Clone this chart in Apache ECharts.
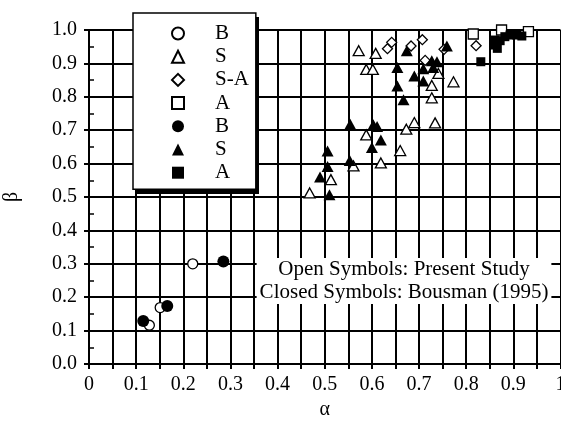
<!DOCTYPE html>
<html>
<head>
<meta charset="utf-8">
<script src="https://cdn.jsdelivr.net/npm/echarts@6/dist/echarts.min.js"></script>
<style>
  html, body { margin: 0; padding: 0; background: #fff; }
  #chart { width: 561px; height: 432px; }
</style>
</head>
<body>
<div id="chart"></div>
<script>
// tick labels
var xTickLabels = ['0', '0.1', '0.2', '0.3', '0.4', '0.5', '0.6', '0.7', '0.8', '0.9', '1'];
var yTickLabels = ['0.0', '0.1', '0.2', '0.3', '0.4', '0.5', '0.6', '0.7', '0.8', '0.9', '1.0'];

// open symbols: present study  [alpha, beta]
var openB = [[0.22, 0.30], [0.151, 0.169], [0.128, 0.116]];
var openS = [
    [0.468, 0.512], [0.513, 0.552], [0.561, 0.593], [0.588, 0.686], [0.619, 0.602],
    [0.660, 0.639], [0.673, 0.703], [0.690, 0.723], [0.734, 0.722], [0.727, 0.797],
    [0.727, 0.834], [0.741, 0.870], [0.773, 0.845], [0.588, 0.882], [0.602, 0.882],
    [0.572, 0.938], [0.608, 0.930]
];
var openSA = [[0.633, 0.944], [0.642, 0.963], [0.683, 0.952], [0.707, 0.971], [0.713, 0.909], [0.753, 0.942], [0.821, 0.953]];
var openA = [[0.815, 0.988], [0.875, 1.0], [0.932, 0.995]];

// closed symbols: Bousman (1995)
var closedB = [[0.285, 0.307], [0.166, 0.174], [0.115, 0.129]];
var closedS = [
    [0.490, 0.560], [0.506, 0.591], [0.506, 0.638], [0.510, 0.507], [0.553, 0.609],
    [0.554, 0.718], [0.603, 0.716], [0.611, 0.711], [0.619, 0.671], [0.600, 0.648],
    [0.667, 0.791], [0.654, 0.832], [0.654, 0.888], [0.674, 0.938], [0.690, 0.862],
    [0.709, 0.884], [0.709, 0.847], [0.727, 0.908], [0.738, 0.905], [0.730, 0.888],
    [0.759, 0.952]
];
var closedA = [[0.831, 0.905], [0.861, 0.955], [0.866, 0.945], [0.861, 0.970], [0.872, 0.968], [0.882, 0.980], [0.893, 0.985], [0.907, 0.985], [0.918, 0.982]];

var noteLines = ['Open Symbols: Present Study', 'Closed Symbols: Bousman (1995)'];

var FONT = "'Liberation Serif', 'Times New Roman', serif";

function openStyle() {
    return {color: '#fff', borderColor: '#000', borderWidth: 1.3, opacity: 1};
}
function closedStyle() {
    return {color: '#000', borderColor: '#000', borderWidth: 0, opacity: 1};
}
function mkSeries(name, data, symbol, size, style) {
    return {
        name: name,
        type: 'scatter',
        data: data,
        symbol: symbol,
        symbolSize: size,
        itemStyle: style,
        clip: false,
        emphasis: {disabled: true},
        z: 3
    };
}

var chart = echarts.init(document.getElementById('chart'), null, {renderer: 'canvas'});

var option = {
    animation: false,
    backgroundColor: '#fff',
    textStyle: {fontFamily: FONT, color: '#000'},
    grid: {left: 89, right: 0.5, top: 30, bottom: 68, outerBoundsMode: 'none', containLabel: false},
    xAxis: {
        type: 'value',
        min: 0,
        max: 1,
        interval: 0.05,
        name: 'α',
        nameLocation: 'middle',
        nameGap: 33,
        nameTextStyle: {fontFamily: FONT, fontSize: 20, color: '#000'},
        axisLine: {show: true, lineStyle: {color: '#000', width: 2}},
        axisTick: {show: true, length: 5, lineStyle: {color: '#000', width: 2}},
        axisLabel: {
            fontFamily: FONT, fontSize: 20, color: '#000', margin: 11,
            showMaxLabel: true,
            formatter: function (v) {
                var i = Math.round(v * 20);
                return i % 2 === 0 ? xTickLabels[i / 2] : '';
            }
        },
        splitLine: {show: true, lineStyle: {color: '#000', width: 2}}
    },
    yAxis: [{
        type: 'value',
        min: 0,
        max: 1,
        interval: 0.1,
        position: 'left',
        name: 'β',
        nameLocation: 'middle',
        nameGap: 67,
        nameTextStyle: {fontFamily: FONT, fontSize: 20, color: '#000'},
        axisLine: {show: true, lineStyle: {color: '#000', width: 2}},
        axisTick: {show: true, length: 5, lineStyle: {color: '#000', width: 2}},
        axisLabel: {
            fontFamily: FONT, fontSize: 20, color: '#000', margin: 12,
            formatter: function (v) {
                return yTickLabels[Math.round(v * 10)];
            }
        },
        splitLine: {show: true, lineStyle: {color: '#000', width: 2}}
    }, {
        // inner minor ticks every 0.05
        type: 'value',
        min: 0,
        max: 1,
        interval: 0.05,
        position: 'left',
        axisLine: {show: false},
        axisTick: {show: true, inside: true, length: 5, lineStyle: {color: '#000', width: 1.5}},
        axisLabel: {show: false},
        splitLine: {show: false}
    }],
    legend: {
        orient: 'vertical',
        left: 133,
        top: 13,
        padding: [10, 7, 6, 38],
        itemWidth: 12,
        itemHeight: 12,
        itemGap: 2.2,
        selectedMode: false,
        backgroundColor: '#fff',
        borderColor: '#000',
        borderWidth: 1.5,
        borderRadius: 0,
        textStyle: {
            fontFamily: FONT, fontSize: 21, lineHeight: 21, color: '#000',
            rich: {t: {fontFamily: FONT, fontSize: 21, lineHeight: 21, color: '#000', padding: [0, 0, 0, 26]}}
        },
        formatter: function (name) {
            return '{t|' + name.split(' ')[1] + '}';
        },
        data: ['open B', 'open S', 'open S-A', 'open A', 'closed B', 'closed S', 'closed A']
    },
    graphic: [{
        // legend drop shadow
        type: 'rect',
        z: 3.5,
        shape: {x: 137, y: 17, width: 122, height: 177},
        style: {fill: '#000'}
    }, {
        type: 'text',
        x: 404,
        y: 281,
        z: 50,
        style: {
            text: noteLines.join('\n'),
            font: '21px ' + FONT,
            fill: '#000',
            align: 'center',
            verticalAlign: 'middle',
            lineHeight: 23,
            backgroundColor: '#fff',
            padding: [0, 3]
        }
    }],
    series: [
        mkSeries('open B', openB, 'circle', 10, openStyle()),
        mkSeries('open S', openS, 'triangle', [11, 10], openStyle()),
        mkSeries('open S-A', openSA, 'diamond', [10, 10], openStyle()),
        mkSeries('open A', openA, 'rect', 10, openStyle()),
        mkSeries('closed B', closedB, 'circle', 12, closedStyle()),
        mkSeries('closed S', closedS, 'triangle', [12, 11], closedStyle()),
        mkSeries('closed A', closedA, 'rect', 9, closedStyle())
    ]
};

chart.setOption(option);
</script>
</body>
</html>
